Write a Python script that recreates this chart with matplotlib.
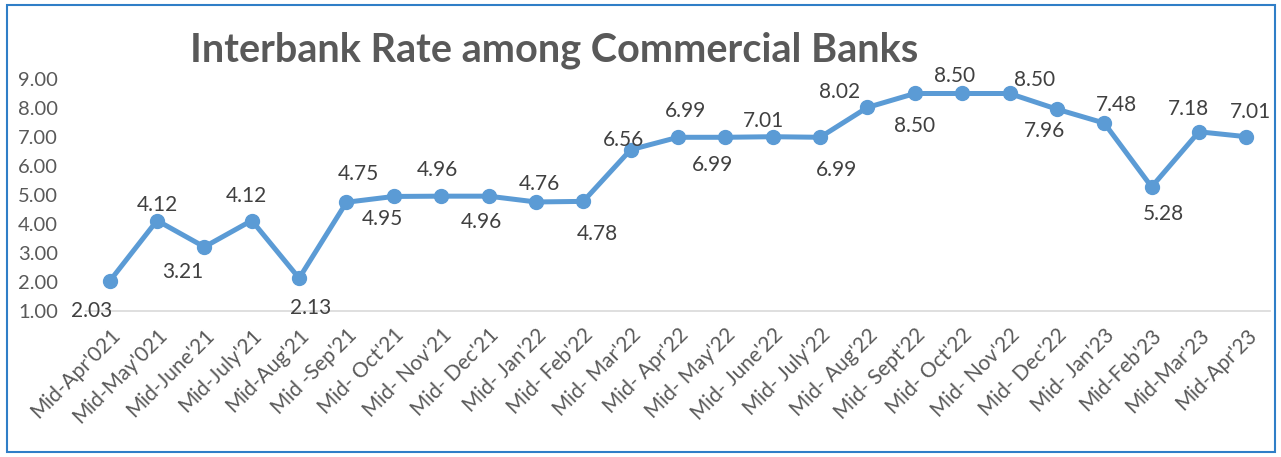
"""Interbank rate among commercial banks — line chart with data labels."""

import matplotlib

matplotlib.use("Agg")

import matplotlib.pyplot as plt  # noqa: E402
from matplotlib.patches import Rectangle  # noqa: E402

plt.rcParams["font.family"] = ["Lato", "DejaVu Sans"]

# data
months = [
    "Mid-Apr'021", "Mid-May'021", "Mid-June'21", "Mid-July'21", "Mid-Aug'21",
    "Mid -Sep'21", "Mid- Oct'21", "Mid- Nov'21", "Mid- Dec'21", "Mid- Jan'22",
    "Mid- Feb'22", "Mid- Mar'22", "Mid- Apr'22", "Mid- May'22", "Mid- June'22",
    "Mid- July'22", "Mid- Aug'22", "Mid- Sept'22", "Mid- Oct'22", "Mid- Nov'22",
    "Mid- Dec'22", "Mid- Jan'23", "Mid-Feb'23", "Mid-Mar'23", "Mid-Apr'23",
]
rates = [
    2.03, 4.12, 3.21, 4.12, 2.13, 4.75, 4.95, 4.96, 4.96, 4.76,
    4.78, 6.56, 6.99, 6.99, 7.01, 6.99, 8.02, 8.50, 8.50, 8.50,
    7.96, 7.48, 5.28, 7.18, 7.01,
]
y_ticks = [1, 2, 3, 4, 5, 6, 7, 8, 9]

# label offsets in pixels (dx, dy up-positive)
label_offsets = [
    (-18, -30), (0, 16), (-22, -25), (-5, 25), (12, -30),
    (12, 28), (-11, -23), (-4, 26), (-7, -26), (3, 18),
    (14, -33), (-7, 10), (8, 26), (-13, -28), (-9, 16),
    (16, -33), (-28, 15), (0, -32), (-8, 18), (25, 13),
    (-12, -22), (12, 18), (12, -27), (-11, 23), (4, 25),
]

LINE = "#5B9BD5"
TXT = "#404040"
AXT = "#595959"

fig = plt.figure(figsize=(12.81, 4.57), dpi=100)
ax = fig.add_axes([86 / 1281, 1 - 311 / 457, (1270 - 86) / 1281, (311 - 79) / 457])

x = list(range(len(months)))
ax.plot(x, rates, color=LINE, lw=3.6, marker="o", ms=10, solid_capstyle="round", zorder=3)

for xi, v, (dx, dy) in zip(x, rates, label_offsets):
    ax.annotate(f"{v:.2f}", (xi, v), xytext=(dx * 0.72, dy * 0.72), textcoords="offset points",
                ha="center", va="center", fontsize=15, color=TXT)

ax.set_xlim(-0.5, len(months) - 0.5)
ax.set_ylim(1, 9)
ax.set_yticks(y_ticks)
ax.set_yticklabels([f"{t:.2f}" for t in y_ticks])
ax.set_xticks(x)
ax.set_xticklabels(months, rotation=45, ha="right", rotation_mode="anchor")
ax.tick_params(axis="both", length=0, colors=AXT)
ax.tick_params(axis="y", labelsize=14.5, pad=20)
ax.tick_params(axis="x", labelsize=15, pad=10)

for side in ("top", "right", "left"):
    ax.spines[side].set_visible(False)
ax.spines["bottom"].set_color("#D9D9D9")
ax.spines["bottom"].set_linewidth(1.2)

fig.text(554 / 1281, 1 - 50 / 457, "Interbank Rate among Commercial Banks",
         ha="center", va="center", fontsize=28.5, fontweight="bold", color=AXT)

fig.patches.append(Rectangle((7 / 1281, 5 / 457), 1268 / 1281, 447 / 457,
                             transform=fig.transFigure, fill=False,
                             edgecolor="#2F7EC7", lw=1.5))

fig.savefig("out.png", dpi=100)
